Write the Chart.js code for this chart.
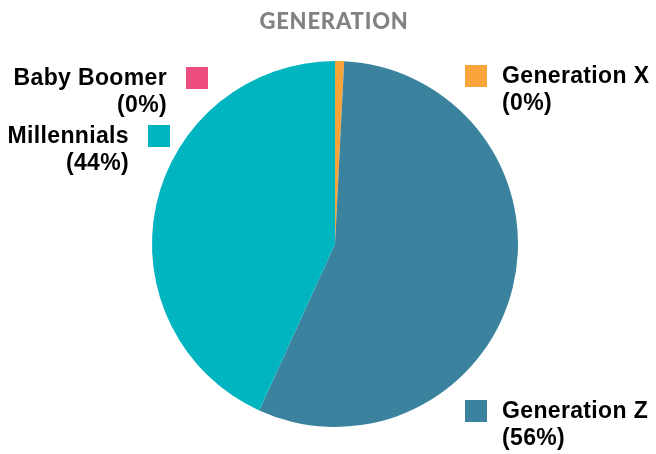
<!DOCTYPE html>
<html>
<head>
<meta charset="utf-8">
<script src="https://cdn.jsdelivr.net/npm/chart.js@4"></script>
<style>
html,body{margin:0;padding:0;background:#fff;}
#wrap{width:656px;height:454px;position:relative;}
</style>
</head>
<body>
<div id="wrap"><canvas id="c" width="656" height="454"></canvas></div>
<script>
const chartTitle = 'GENERATION';
const categories = ['Generation X', 'Generation Z', 'Millennials', 'Baby Boomer'];
const shares = [0.8, 56.0, 43.2, 0];
const shareLabels = ['(0%)', '(56%)', '(44%)', '(0%)'];
const colors = ['#F9A43A', '#3A829E', '#00B5BF', '#EE4D80'];

// label layout: square top-left corner and which side the text sits on
const labelLayout = [
  {x: 465, y: 65, side: 'right'},
  {x: 465, y: 400, side: 'right'},
  {x: 148, y: 125, side: 'left'},
  {x: 186, y: 67, side: 'left'}
];

const labelPlugin = {
  id: 'labels',
  afterDraw(chart) {
    const ctx = chart.ctx;
    ctx.save();
    ctx.fillStyle = '#828282';
    ctx.font = '900 22px Lato';
    ctx.letterSpacing = '0.8px';
    ctx.textAlign = 'center';
    ctx.textBaseline = 'alphabetic';
    ctx.fillText(chartTitle, 334, 29);
    const sq = 22;
    categories.forEach((cat, i) => {
      const L = labelLayout[i];
      ctx.fillStyle = chart.data.datasets[0].backgroundColor[i];
      ctx.fillRect(L.x, L.y, sq, sq);
      ctx.fillStyle = '#000';
      ctx.font = 'bold 23px "Liberation Sans"';
      ctx.letterSpacing = '0.35px';
      ctx.textBaseline = 'alphabetic';
      if (L.side === 'right') {
        ctx.textAlign = 'left';
        ctx.fillText(cat, L.x + 37, L.y + 18);
        ctx.fillText(shareLabels[i], L.x + 37, L.y + 45);
      } else {
        ctx.textAlign = 'right';
        ctx.fillText(cat, L.x - 19, L.y + 18);
        ctx.fillText(shareLabels[i], L.x - 19, L.y + 45);
      }
    });
    ctx.restore();
  }
};

new Chart(document.getElementById('c'), {
  type: 'pie',
  data: {
    labels: categories,
    datasets: [{
      data: shares,
      backgroundColor: colors,
      borderWidth: 0
    }]
  },
  options: {
    responsive: false,
    animation: false,
    layout: {padding: {top: 61, bottom: 27, left: 152, right: 138}},
    plugins: {
      legend: {display: false},
      tooltip: {enabled: false}
    }
  },
  plugins: [labelPlugin]
});
</script>
</body>
</html>
